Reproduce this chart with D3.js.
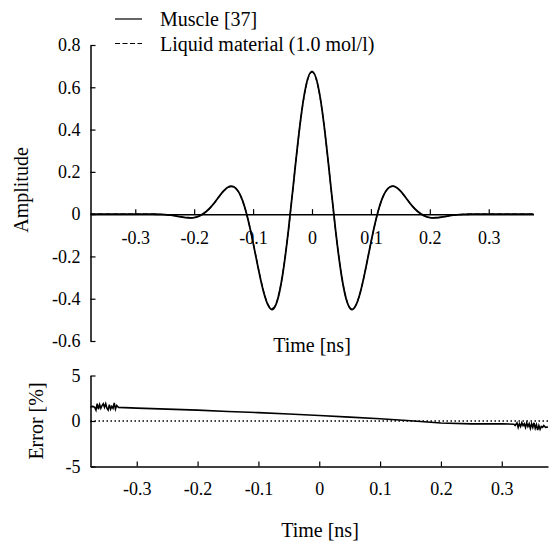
<!DOCTYPE html>
<html>
<head>
<meta charset="utf-8">
<script src="https://cdn.jsdelivr.net/npm/d3@7"></script>
<style>
  html, body { margin: 0; padding: 0; background: #fff; }
  svg { display: block; }
</style>
</head>
<body>
<svg id="chart" width="556" height="547"></svg>
<script>
// Pulse amplitude vs time (ns)
const pulseTime = [-0.376, -0.37, -0.36, -0.35, -0.34, -0.33, -0.32, -0.31, -0.30, -0.29, -0.28, -0.27,
  -0.26, -0.25, -0.24, -0.23, -0.22, -0.21, -0.20, -0.19, -0.18, -0.17, -0.16, -0.15, -0.14, -0.13,
  -0.12, -0.11, -0.10, -0.09, -0.08, -0.07, -0.06, -0.05, -0.04, -0.03, -0.02, -0.01, 0,
  0.01, 0.02, 0.03, 0.04, 0.05, 0.06, 0.07, 0.08, 0.09, 0.10, 0.11, 0.12, 0.13, 0.14, 0.15, 0.16,
  0.17, 0.18, 0.19, 0.20, 0.21, 0.22, 0.23, 0.24, 0.25, 0.26, 0.27, 0.28, 0.29, 0.30, 0.31, 0.32,
  0.33, 0.34, 0.35, 0.36, 0.37, 0.376];

const muscleAmp = [0, 0, 0, 0, 0, 0, 0, 0, 0, 0, 0, 0,
  -0.001, -0.002, -0.005, -0.009, -0.014, -0.017, -0.016, -0.007, 0.011, 0.039, 0.075, 0.110, 0.131, 0.124,
  0.079, -0.010, -0.135, -0.273, -0.390, -0.449, -0.419, -0.289, -0.076, 0.183, 0.432, 0.610, 0.675,
  0.610, 0.432, 0.183, -0.076, -0.289, -0.419, -0.449, -0.390, -0.273, -0.135, -0.010, 0.079, 0.124, 0.131, 0.110, 0.075,
  0.039, 0.011, -0.007, -0.016, -0.017, -0.014, -0.009, -0.005, -0.002, -0.001, 0, 0, 0, 0, 0, 0,
  0, 0, 0, 0, 0, 0];

const liquidAmp = [0, 0, 0, 0, 0, 0, 0, 0, 0, 0, 0, 0,
  -0.001, -0.002, -0.005, -0.009, -0.014, -0.017, -0.016, -0.007, 0.011, 0.038, 0.074, 0.109, 0.129, 0.122,
  0.078, -0.010, -0.133, -0.270, -0.386, -0.445, -0.416, -0.287, -0.076, 0.182, 0.430, 0.606, 0.671,
  0.607, 0.430, 0.182, -0.076, -0.288, -0.418, -0.448, -0.389, -0.273, -0.135, -0.010, 0.079, 0.124, 0.131, 0.110, 0.075,
  0.039, 0.011, -0.007, -0.016, -0.017, -0.014, -0.009, -0.005, -0.002, -0.001, 0, 0, 0, 0, 0, 0,
  0, 0, 0, 0, 0, 0];

// Relative error (%) between the two pulses
const errTime = [-0.376, -0.372, -0.369, -0.367, -0.365, -0.363, -0.361, -0.359, -0.357, -0.355, -0.353,
  -0.351, -0.349, -0.347, -0.345, -0.343, -0.341, -0.339, -0.337, -0.335, -0.333, -0.330,
  -0.30, -0.25, -0.20, -0.15, -0.10, -0.05, 0, 0.05, 0.10, 0.15, 0.20, 0.25, 0.30, 0.32,
  0.322, 0.325, 0.327, 0.329, 0.331, 0.333, 0.335, 0.337, 0.339, 0.341, 0.343, 0.345, 0.347,
  0.349, 0.351, 0.353, 0.355, 0.357, 0.359, 0.361, 0.363, 0.365, 0.367, 0.369, 0.372, 0.376];
const errValue = [1.55, 1.6, 1.5, 1.2, 1.9, 1.3, 1.8, 1.4, 1.7, 1.9, 1.5,
  1.9, 1.4, 1.2, 1.8, 1.3, 1.6, 1.4, 2.0, 1.3, 1.7, 1.5,
  1.42, 1.3, 1.2, 1.05, 0.92, 0.77, 0.6, 0.43, 0.25, 0.02, -0.22, -0.32, -0.3, -0.35,
  -0.5, -0.2, -0.7, -0.3, -0.6, -0.2, -0.5, -0.3, -0.7, -0.2, -0.6, -0.3, -0.8,
  -0.3, -0.7, -0.2, -0.8, -0.4, -1.0, -0.5, -0.9, -0.6, -0.7, -0.5, -0.7, -0.65];

const ampTicks = [-0.6, -0.4, -0.2, 0, 0.2, 0.4, 0.6, 0.8];
const timeTicks = [-0.3, -0.2, -0.1, 0, 0.1, 0.2, 0.3];
const errTicks = [-5, 0, 5];
const legendLabels = ["Muscle [37]", "Liquid material (1.0 mol/l)"];

const FONT = "Liberation Serif";
const svg = d3.select("#chart");
const fmt = d => d === 0 ? "0" : (Number.isInteger(d) ? String(d) : d.toFixed(1));

function label(x, y, str, rotate) {
  return svg.append("text")
    .attr("transform", `translate(${x},${y})` + (rotate ? " rotate(-90)" : ""))
    .attr("text-anchor", "middle")
    .attr("font-family", FONT).attr("font-size", 20).attr("fill", "#000")
    .text(str);
}

function styleAxis(g, size) {
  g.attr("font-family", FONT).attr("font-size", size);
  g.selectAll("path.domain").attr("stroke", "#000").attr("stroke-width", 1.5);
  g.selectAll(".tick line").attr("stroke", "#000").attr("stroke-width", 1.2);
  g.selectAll(".tick text").attr("font-family", FONT).attr("font-size", size).attr("fill", "#000");
}

// ---------- upper panel ----------
const xTop = d3.scaleLinear().domain([-0.376, 0.376]).range([90.5, 533.5]);
const yTop = d3.scaleLinear().domain([-0.6, 0.8]).range([341, 45]);

const yAxisTop = svg.append("g").attr("transform", `translate(${xTop.range()[0]},0)`)
  .call(d3.axisLeft(yTop).tickValues(ampTicks).tickFormat(fmt).tickSize(-5).tickSizeOuter(0).tickPadding(10));
styleAxis(yAxisTop, 18);

const xAxisTop = svg.append("g").attr("transform", `translate(0,${yTop(0)})`)
  .call(d3.axisBottom(xTop).tickValues(timeTicks).tickFormat(fmt).tickSize(-5).tickSizeOuter(0).tickPadding(17));
styleAxis(xAxisTop, 18);

const lineTop = (vals) => d3.line()
  .x((d, i) => xTop(pulseTime[i]))
  .y(d => yTop(d))
  .curve(d3.curveNatural)(vals);

svg.append("path").attr("d", lineTop(muscleAmp))
  .attr("fill", "none").attr("stroke", "#000").attr("stroke-width", 1.8);
svg.append("path").attr("d", lineTop(liquidAmp))
  .attr("fill", "none").attr("stroke", "#000").attr("stroke-width", 1.2)
  .attr("stroke-dasharray", "5,2.5");

label(312, 352, "Time [ns]");
label(28, 190, "Amplitude", true);

// legend
legendLabels.forEach((lab, i) => {
  const y = 19 + i * 24.5;
  svg.append("line").attr("x1", 115).attr("x2", 142).attr("y1", y).attr("y2", y)
    .attr("stroke", "#000").attr("stroke-width", 1.2)
    .attr("stroke-dasharray", i === 1 ? "5,2.5" : null);
  svg.append("text").attr("x", 160).attr("y", y + 7)
    .attr("font-family", FONT).attr("font-size", 20).attr("fill", "#000").text(lab);
});

// ---------- lower panel ----------
const xBot = d3.scaleLinear().domain([-0.376, 0.376]).range([90.5, 548]);
const yBot = d3.scaleLinear().domain([-5, 5]).range([466.5, 375.5]);

const yAxisBot = svg.append("g").attr("transform", `translate(${xBot.range()[0]},0)`)
  .call(d3.axisLeft(yBot).tickValues(errTicks).tickFormat(fmt).tickSize(-5).tickSizeOuter(0).tickPadding(10));
styleAxis(yAxisBot, 18);

const xAxisBot = svg.append("g").attr("transform", `translate(0,${yBot(-5)})`)
  .call(d3.axisBottom(xBot).tickValues(timeTicks).tickFormat(fmt).tickSize(-5).tickSizeOuter(0).tickPadding(16));
styleAxis(xAxisBot, 18);

// zero reference
svg.append("line").attr("x1", xBot.range()[0]).attr("x2", xBot.range()[1])
  .attr("y1", yBot(0)).attr("y2", yBot(0))
  .attr("stroke", "#000").attr("stroke-width", 1.3).attr("stroke-dasharray", "1.5,2.5");

const errLine = d3.line().x((d, i) => xBot(errTime[i])).y(d => yBot(d));
svg.append("path").attr("d", errLine(errValue))
  .attr("fill", "none").attr("stroke", "#000").attr("stroke-width", 1.6);

label(320, 537, "Time [ns]");
label(43, 421, "Error [%]", true);
</script>
</body>
</html>
